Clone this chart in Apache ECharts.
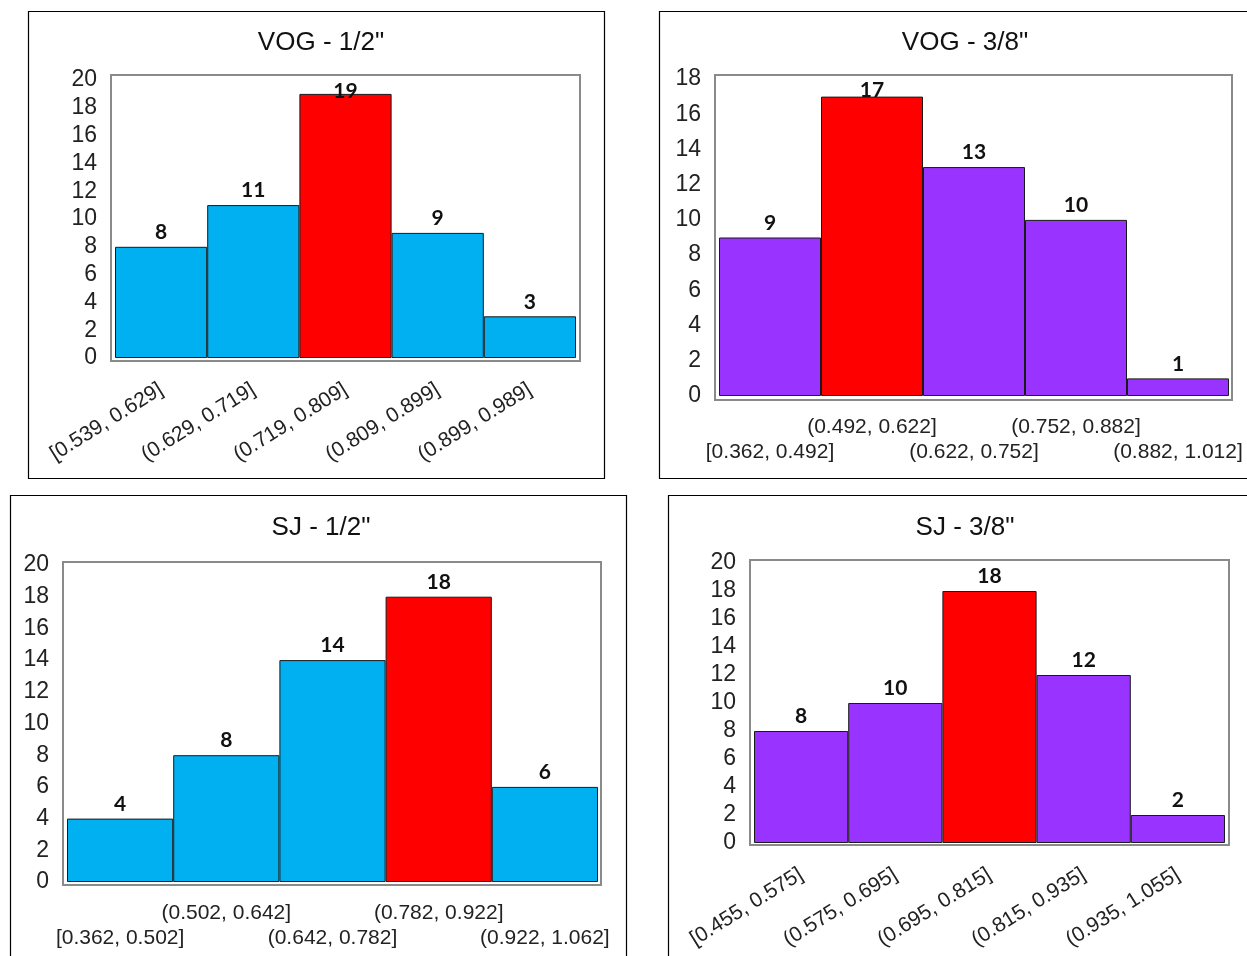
<!DOCTYPE html>
<html>
<head>
<meta charset="utf-8">
<script src="https://cdn.jsdelivr.net/npm/echarts@6/dist/echarts.min.js"></script>
<style>
html,body{margin:0;padding:0;background:#fff;}
#c{width:1247px;height:956px;}
</style>
</head>
<body>
<div id="c"></div>
<script>
// ---- Data ----
const titles = ['VOG - 1/2"', 'VOG - 3/8"', 'SJ - 1/2"', 'SJ - 3/8"'];
const catsVog12 = ['[0.539, 0.629]', '(0.629, 0.719]', '(0.719, 0.809]', '(0.809, 0.899]', '(0.899, 0.989]'];
const valsVog12 = [8, 11, 19, 9, 3];
const catsVog38 = ['[0.362, 0.492]', '(0.492, 0.622]', '(0.622, 0.752]', '(0.752, 0.882]', '(0.882, 1.012]'];
const valsVog38 = [9, 17, 13, 10, 1];
const catsSj12 = ['[0.362, 0.502]', '(0.502, 0.642]', '(0.642, 0.782]', '(0.782, 0.922]', '(0.922, 1.062]'];
const valsSj12 = [4, 8, 14, 18, 6];
const catsSj38 = ['[0.455, 0.575]', '(0.575, 0.695]', '(0.695, 0.815]', '(0.815, 0.935]', '(0.935, 1.055]'];
const valsSj38 = [8, 10, 18, 12, 2];
const yMax = [20, 18, 20, 20];
const yTicks = [2, 2, 2, 2];

// ---- Layout / style ----
const panels = [
  {cats: catsVog12, vals: valsVog12, color: '#00B0F0', grid: {left: 115, top: 80, width: 461, height: 278}, frame: [111, 75, 469, 286], outer: [28, 11, 576, 467], titleX: 316, titleY: 25, labelMode: 'rotate'},
  {cats: catsVog38, vals: valsVog38, color: '#9933FF', grid: {left: 719, top: 79, width: 510, height: 317}, frame: [715, 75, 517, 325], outer: [659, 11, 600, 467], titleX: 960, titleY: 25, labelMode: 'stagger'},
  {cats: catsSj12, vals: valsSj12, color: '#00B0F0', grid: {left: 67, top: 565, width: 531, height: 317}, frame: [63, 562, 538, 323], outer: [10, 495, 616, 470], titleX: 316, titleY: 510, labelMode: 'stagger'},
  {cats: catsSj38, vals: valsSj38, color: '#9933FF', grid: {left: 754, top: 563, width: 471, height: 280}, frame: [750, 560, 479, 285], outer: [668, 495, 600, 470], titleX: 960, titleY: 510, labelMode: 'rotate'}
];

const AXIS_FONT = 'Liberation Sans, Arial, sans-serif';
const LABEL_FONT = 'Lato, Noto Sans, sans-serif';

const option = {
  animation: false,
  backgroundColor: '#ffffff',
  title: [], grid: [], xAxis: [], yAxis: [], series: [],
  graphic: []
};

panels.forEach((p, i) => {
  option.title.push({
    text: titles[i], left: p.titleX, top: p.titleY, textAlign: 'center',
    textStyle: {fontFamily: AXIS_FONT, fontSize: 26, fontWeight: 'normal', color: '#111'}
  });
  option.grid.push(Object.assign({containLabel: false}, p.grid));
  const xLabel = {
    interval: 0, fontFamily: AXIS_FONT, fontSize: 21, color: '#222'
  };
  if (p.labelMode === 'rotate') {
    xLabel.rotate = 32;
    xLabel.margin = 30;
  } else {
    xLabel.margin = 19;
    xLabel.lineHeight = 25;
    xLabel.formatter = (v, idx) => (idx % 2 === 0 ? '\n' + v : v);
  }
  option.xAxis.push({
    type: 'category', gridIndex: i, data: p.cats,
    axisLine: {show: false}, axisTick: {show: false},
    axisLabel: xLabel
  });
  option.yAxis.push({
    type: 'value', gridIndex: i, min: 0, max: yMax[i], interval: yTicks[i],
    axisLine: {show: false}, axisTick: {show: false}, splitLine: {show: false},
    axisLabel: {fontFamily: AXIS_FONT, fontSize: 23, color: '#222', margin: 18}
  });
  const maxV = Math.max.apply(null, p.vals);
  const h = p.grid.height;
  option.series.push({
    type: 'bar', xAxisIndex: i, yAxisIndex: i, barCategoryGap: '0%',
    data: p.vals.map(v => {
      const room = (yMax[i] - v) / yMax[i] * h;
      const dist = room - 13.5 < 12 ? room - 21.5 : 4;
      return {
        value: v,
        itemStyle: {color: v === maxV ? '#FF0000' : p.color, borderColor: '#1a1a1a', borderWidth: 1},
        label: {distance: dist}
      };
    }),
    label: {show: true, position: 'top', fontFamily: LABEL_FONT, fontWeight: 'bold', fontSize: 21, color: '#111'}
  });
  option.graphic.push({
    type: 'rect', silent: true, z: 100,
    shape: {x: p.frame[0], y: p.frame[1], width: p.frame[2], height: p.frame[3]},
    style: {fill: null, stroke: '#8a8a8a', lineWidth: 2}
  });
  option.graphic.push({
    type: 'rect', silent: true, z: 100,
    shape: {x: p.outer[0] + 0.5, y: p.outer[1] + 0.5, width: p.outer[2], height: p.outer[3]},
    style: {fill: null, stroke: '#000', lineWidth: 1.2}
  });
});

const chart = echarts.init(document.getElementById('c'), null, {renderer: 'canvas'});
chart.setOption(option);
</script>
</body>
</html>
